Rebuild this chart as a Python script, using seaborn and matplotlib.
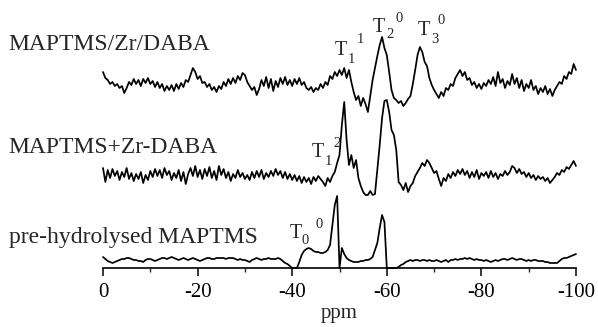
import numpy as np
import pandas as pd
import matplotlib
matplotlib.use("Agg")
import matplotlib.pyplot as plt
import seaborn as sns
from matplotlib.ticker import MultipleLocator

# 29Si chemical shift grid (ppm), 0.5 ppm steps from 0 to -100
ppm = np.linspace(0, -100, 201)

# Spectrum intensities (arbitrary units) on the ppm grid, rows of 5 ppm
zr_daba_sequential = [
    13, 7, 5, 1, 3, -1, 1, -3, -1, -8,
    -3, 3, 0, 6, 1, 5, -1, 6, 2, 7,
    1, 4, -2, 3, -3, 1, -6, -1, -5, 0,
    -6, 1, -4, 2, -2, 5, 3, 10, 17, 13,
    6, 9, 2, 3, -2, 1, -5, -2, -7, -1,
    -4, 3, -1, 6, 1, 7, 2, 9, 5, 12,
    10, 3, -1, -5, -2, -10, -4, 5, -1, 8,
    -3, 6, -6, 4, -2, 7, 1, 8, 0, 5,
    -1, 6, 1, 7, 0, 3, -3, -5, -2, -7,
    -3, -5, 1, -3, 3, 0, 9, 6, 13, 9,
    15, 10, 17, 7, 15, 3, -7, -15, -11, -21,
    -13, -19, -27, -11, 5, 17, 29, 40, 48, 37,
    30, 13, -5, -13, -15, -18, -16, -21, -18, -14,
    -11, 1, 15, 30, 38, 33, 23, 19, 7, 0,
    -5, -9, -13, -7, -11, -3, -5, 1, -1, 7,
    11, 15, 9, 13, 5, 7, 0, 3, -3, 1,
    -4, 2, -1, 5, 1, 8, -1, 13, 2, 6,
    -3, 4, 0, 11, 1, 7, -3, 5, -6, 1,
    -3, 5, -5, -1, -9, -3, -7, -1, -9, -4,
    -11, -5, -1, 3, 1, 9, 6, 13, 11, 21,
    15,
]

zr_daba_mixed = [
    7, -7, 5, -3, 6, -1, 4, -5, 3, -2,
    7, -4, 2, -6, 1, -4, 3, -8, 0, -5,
    4, -2, 6, -1, 5, -3, 7, 0, 4, -5,
    2, -3, 5, -6, 3, -9, 1, 7, -1, 9,
    -2, 5, -4, 6, -1, 8, -3, 4, -5, 9,
    0, 6, -3, 3, -6, 1, -3, 5, -2, 2,
    -4, 0, -5, 3, -3, 4, -2, 5, -4, 2,
    -2, 4, -1, 6, 0, 4, -3, 3, -4, 1,
    -5, 0, -6, -1, -8, -2, -7, -3, -9, -2,
    -6, -1, -4, -7, -11, -3, -7, -1, 3, 12,
    20, 50, 73, 35, 10, 20, 7, 15, -3, -11,
    -17, -20, -20, -16, -20, -19, 5, 30, 57, 74,
    75, 63, 45, 40, 25, -7, -10, -15, -8, -17,
    -11, -8, -1, 3, 7, 12, 9, 15, 12, 7,
    2, 4, -4, -11, -3, -6, 1, -3, 3, -1,
    5, 1, 6, 0, 4, -3, 3, -2, 5, -4,
    2, -1, 3, -3, 4, -2, 2, -4, 1, -1,
    4, 0, 3, 9, 7, 2, 6, 1, 3, -2,
    2, -3, 0, -5, -1, -4, -2, -6, -3, -8,
    -5, -2, 2, 0, 5, 3, 8, 6, 10, 14,
    9,
]

prehydrolysed = [
    11, 9, 7, 6, 5, 6, 7, 8, 9, 9,
    10, 10, 9, 8, 8, 7, 7, 6, 8, 9,
    9, 8, 7, 8, 9, 10, 10, 9, 10, 11,
    10, 9, 8, 9, 10, 9, 8, 9, 10, 9,
    8, 7, 8, 9, 10, 10, 9, 9, 10, 10,
    10, 10, 9, 10, 10, 10, 9, 8, 9, 8,
    8, 7, 6, 8, 9, 10, 9, 8, 9, 9,
    10, 9, 9, 9, 10, 9, 7, 5, 4, 2,
    0, 0, 0, 6, 13, 17, 19, 20, 19, 17,
    16, 16, 15, 15, 16, 18, 23, 43, 63, 72,
    0, 20, 14, 10, 8, 7, 6, 6, 6, 7,
    7, 8, 8, 9, 11, 18, 25, 40, 53, 46,
    0, 0, 0, 0, 0, 1, 3, 4, 6, 7,
    8, 7, 8, 8, 7, 8, 8, 7, 8, 7,
    7, 8, 7, 6, 7, 8, 6, 8, 8, 9,
    8, 9, 9, 10, 9, 10, 9, 8, 9, 8,
    8, 7, 8, 7, 6, 7, 8, 7, 8, 9,
    9, 8, 9, 10, 9, 8, 9, 9, 8, 7,
    8, 7, 8, 8, 7, 7, 7, 6, 6, 5,
    5, 5, 5, 7, 9, 10, 10, 11, 12, 13,
    14,
]

sample_names = ["MAPTMS/Zr/DABA", "MAPTMS+Zr-DABA", "pre-hydrolysed MAPTMS"]
spectra = [zr_daba_sequential, zr_daba_mixed, prehydrolysed]

# Vertical stacking of the traces
stack_offsets = [183, 93, 0]

# Peak assignments: (T label, subscript, superscript)
assignments = [("T", "1", "1"), ("T", "2", "0"), ("T", "3", "0"),
               ("T", "1", "2"), ("T", "0", "0")]

frames = []
for name, inten, off in zip(sample_names, spectra, stack_offsets):
    frames.append(pd.DataFrame({"ppm": ppm,
                                "signal": np.asarray(inten, float) + off,
                                "sample": name}))
df = pd.concat(frames, ignore_index=True)

sns.set_style("white")
plt.rcParams["font.family"] = ["Liberation Serif", "DejaVu Serif"]
plt.rcParams["axes.unicode_minus"] = False

W, H = 598, 327
fig = plt.figure(figsize=(W / 100, H / 100), dpi=100)
ax = fig.add_axes([103 / W, 59 / H, 473 / W, 268 / H])

sns.lineplot(data=df, x="ppm", y="signal", hue="sample", units="sample",
             estimator=None, sort=False, palette=["black"] * 3,
             legend=False, linewidth=1.25, ax=ax, clip_on=False)

ax.set_xlim(0, -100)
ax.set_ylim(0, 268)
ax.set_yticks([])
ax.set_ylabel("")
for s in ("left", "right", "top"):
    ax.spines[s].set_visible(False)
ax.spines["bottom"].set_linewidth(1.2)
ax.spines["bottom"].set_color("black")

ax.xaxis.set_major_locator(MultipleLocator(20))
ax.xaxis.set_minor_locator(MultipleLocator(10))
ax.tick_params(axis="x", which="major", direction="out", length=6,
               width=1.1, labelsize=15, pad=5, colors="black", bottom=True)
ax.tick_params(axis="x", which="minor", direction="out", length=3,
               width=1.0, bottom=True)
ax.set_xlabel("ppm", fontsize=15, labelpad=1)


def px_text(x, y, s, size, **kw):
    fig.text(x / W, 1 - y / H, s, fontsize=size, va="baseline", ha="left", **kw)


# Sample names
px_text(8, 50, sample_names[0], 17)
px_text(8, 153, sample_names[1], 17)
px_text(9, 243, sample_names[2], 17)

# Peak labels: T position, subscript position, superscript position (px)
label_pos = [
    ((335, 55), (348, 63), (357, 43)),
    ((373, 32), (386, 38), (395, 22)),
    ((418, 35), (431, 43), (437, 24)),
    ((312, 157), (325, 165), (333, 147)),
    ((290, 238), (302, 244), (315, 228)),
]
for (t, sub, sup), (pt, psub, psup) in zip(assignments, label_pos):
    px_text(*pt, t, 14.5)
    px_text(*psub, sub, 10.5)
    px_text(*psup, sup, 10.5)

fig.savefig("out.png", dpi=100)
